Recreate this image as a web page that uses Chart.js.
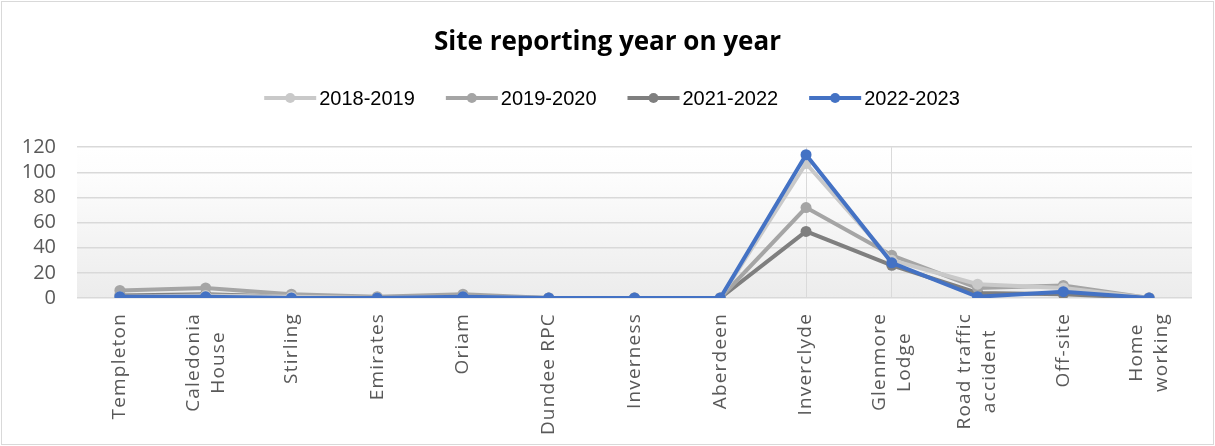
<!DOCTYPE html>
<html>
<head>
<meta charset="utf-8">
<title>Site reporting year on year</title>
<script src="https://cdn.jsdelivr.net/npm/chart.js@4/dist/chart.umd.min.js"></script>
<style>
  html, body { margin: 0; padding: 0; background: #ffffff; }
  #wrap { width: 1215px; height: 446px; position: relative; }
</style>
</head>
<body>
<div id="wrap"><canvas id="chart"></canvas></div>
<script>
// Sites (multi-line labels are split into their lines)
const sites = [
  ['Templeton'], ['Caledonia', 'House'], ['Stirling'], ['Emirates'], ['Oriam'],
  ['Dundee RPC'], ['Inverness'], ['Aberdeen'], ['Inverclyde'], ['Glenmore', 'Lodge'],
  ['Road traffic', 'accident'], ['Off-site'], ['Home', 'working']
];

// Reports per site for each year
const seriesNames = ['2018-2019', '2019-2020', '2021-2022', '2022-2023'];
const reports2018_2019 = [1, 2, 1, 0, 1, 0, 0, 0, 107, 30, 11, 8, 0];
const reports2019_2020 = [6, 8, 3, 1, 3, 0, 0, 0, 72, 34, 8, 10, 0];
const reports2021_2022 = [2, 3, 1, 0, 1, 0, 0, 0, 53, 26, 4, 3, 0];
const reports2022_2023 = [1, 1, 0, 0, 1, 0, 0, 0, 114, 28, 1, 5, 0];

// Value axis ticks
const yTicks = [0, 20, 40, 60, 80, 100, 120];

const seriesColours = ['#c9c9c9', '#a5a5a5', '#7f7f7f', '#4472c4'];
const seriesValues = [reports2018_2019, reports2019_2020, reports2021_2022, reports2022_2023];
const drawOrder = [1, 2, 3, 0];

const datasets = seriesNames.map((name, i) => ({
  label: name,
  data: seriesValues[i],
  borderColor: seriesColours[i],
  backgroundColor: seriesColours[i],
  pointBackgroundColor: seriesColours[i],
  pointBorderColor: seriesColours[i],
  borderWidth: 4,
  pointRadius: 5.5,
  pointHoverRadius: 5.5,
  pointBorderWidth: 0,
  tension: 0,
  order: drawOrder[i]
}));

// White page, thin frame and shaded plot area
const backdrop = {
  id: 'backdrop',
  beforeDraw(chart) {
    const { ctx, width, height, chartArea: a, scales } = chart;
    ctx.save();
    ctx.fillStyle = '#ffffff';
    ctx.fillRect(0, 0, width, height);
    const top = scales.y.getPixelForValue(yTicks[yTicks.length - 1]);
    const g = ctx.createLinearGradient(0, top, 0, a.bottom);
    g.addColorStop(0, '#ffffff');
    g.addColorStop(0.17, '#fdfdfd');
    g.addColorStop(1, '#ececec');
    ctx.fillStyle = g;
    ctx.fillRect(a.left, top, a.right - a.left, a.bottom - top);
    ctx.strokeStyle = '#d9d9d9';
    ctx.lineWidth = 1;
    ctx.strokeRect(1.5, 1.5, width - 3, height - 3);
    ctx.restore();
  }
};

// Legend: a short line with a marker, then the series name
const lineLegend = {
  id: 'lineLegend',
  afterDraw(chart, args, opts) {
    const { ctx } = chart;
    const items = chart.data.datasets;
    ctx.save();
    ctx.font = opts.font;
    ctx.textBaseline = 'middle';
    ctx.textAlign = 'left';
    const widths = items.map(d => ctx.measureText(d.label).width);
    const itemW = widths.map(w => opts.lineLength + opts.textGap + w);
    const total = itemW.reduce((s, w) => s + w, 0) + opts.itemGap * (items.length - 1);
    let x = opts.centerX - total / 2;
    const y = opts.y;
    items.forEach((d, i) => {
      ctx.strokeStyle = d.borderColor;
      ctx.lineWidth = 4;
      ctx.lineCap = 'butt';
      ctx.beginPath();
      ctx.moveTo(x, y);
      ctx.lineTo(x + opts.lineLength, y);
      ctx.stroke();
      ctx.fillStyle = d.borderColor;
      ctx.beginPath();
      ctx.arc(x + opts.lineLength / 2, y, 5, 0, Math.PI * 2);
      ctx.fill();
      ctx.fillStyle = '#000000';
      ctx.fillText(d.label, x + opts.lineLength + opts.textGap, y + 1);
      x += itemW[i] + opts.itemGap;
    });
    ctx.restore();
  }
};

// Category labels, turned upright, lines centred within each label block
const uprightLabels = {
  id: 'uprightLabels',
  afterDraw(chart, args, opts) {
    const { ctx, chartArea } = chart;
    const xs = chart.scales.x;
    ctx.save();
    ctx.font = opts.font;
    ctx.letterSpacing = opts.letterSpacing;
    ctx.fillStyle = opts.color;
    ctx.textAlign = 'center';
    ctx.textBaseline = 'middle';
    chart.data.labels.forEach((lines, i) => {
      const x = xs.getPixelForTick(i);
      const w = Math.max(...lines.map(l => ctx.measureText(l).width));
      ctx.save();
      ctx.translate(x, chartArea.bottom + opts.gap);
      ctx.rotate(-Math.PI / 2);
      lines.forEach((l, j) => {
        ctx.fillText(l, -w / 2, (j - (lines.length - 1) / 2) * opts.lineHeight);
      });
      ctx.restore();
    });
    ctx.restore();
  }
};

new Chart(document.getElementById('chart'), {
  type: 'line',
  data: { labels: sites, datasets },
  plugins: [backdrop, lineLegend, uprightLabels],
  options: {
    responsive: true,
    maintainAspectRatio: false,
    animation: false,
    events: [],
    layout: { padding: { left: 23, right: 23, top: 0, bottom: 0 } },
    plugins: {
      legend: { display: false },
      tooltip: { enabled: false },
      title: {
        display: true,
        text: 'Site reporting year on year',
        color: '#000000',
        font: { family: 'Open Sans', weight: 'bold', size: 26, lineHeight: 1.2 },
        padding: { top: 27, bottom: 89 }
      },
      lineLegend: {
        font: '20px "Liberation Sans"',
        y: 98,
        centerX: 612,
        lineLength: 52,
        textGap: 3,
        itemGap: 31
      },
      uprightLabels: {
        font: '19px "Open Sans"',
        letterSpacing: '1.2px',
        color: '#595959',
        gap: 15,
        lineHeight: 25
      }
    },
    scales: {
      x: {
        type: 'category',
        offset: true,
        border: { display: false },
        grid: {
          offset: false,
          drawTicks: false,
          lineWidth: 1,
          color: c => (c.index === 8 || c.index === 9) ? '#dadada' : 'rgba(0,0,0,0)'
        },
        ticks: { display: false },
        afterFit(s) { s.height = 148; }
      },
      y: {
        min: yTicks[0],
        max: yTicks[yTicks.length - 1],
        border: { display: false },
        grid: { color: '#d9d9d9', lineWidth: 1.5, drawTicks: false },
        afterBuildTicks(s) { s.ticks = yTicks.map(v => ({ value: v })); },
        ticks: {
          autoSkip: false,
          color: '#595959',
          padding: 21,
          font: { family: 'Open Sans', size: 20 }
        },
        afterFit(s) { s.width = 54; }
      }
    }
  }
});
</script>
</body>
</html>
